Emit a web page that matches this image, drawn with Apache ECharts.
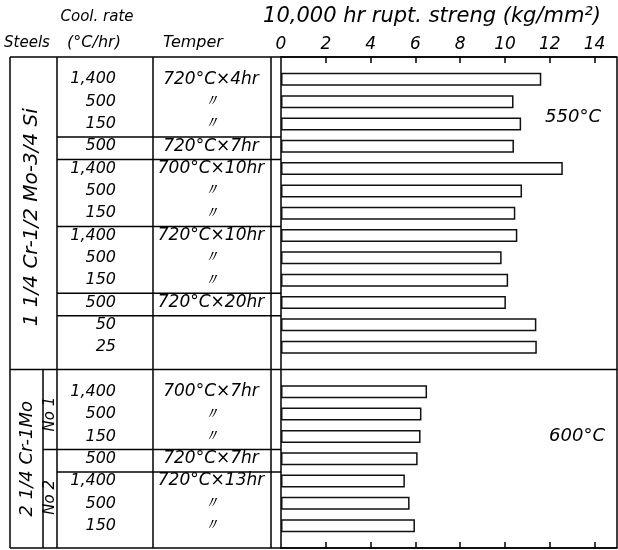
<!DOCTYPE html>
<html><head><meta charset="utf-8">
<script src="https://cdn.jsdelivr.net/npm/echarts@6/dist/echarts.min.js"></script>
<style>html,body{margin:0;padding:0;background:#fff}#c{width:618px;height:550px}</style>
</head><body><div id="c"></div>
<script>
// ---- data ----
const steelNames = ['1 1/4 Cr-1/2 Mo-3/4 Si', '2 1/4 Cr-1Mo'];
const subSteels = ['No 1', 'No 2'];
const coolRates550 = ['1,400','500','150','500','1,400','500','150','1,400','500','150','500','50','25'];
const tempers550 = ['720°C×4hr','〃','〃','720°C×7hr','700°C×10hr','〃','〃','720°C×10hr','〃','〃','720°C×20hr','',''];
const strength550 = [11.62,10.38,10.72,10.40,12.58,10.76,10.46,10.55,9.85,10.14,10.04,11.40,11.42];
const coolRates600 = ['1,400','500','150','500','1,400','500','150'];
const tempers600 = ['700°C×7hr','〃','〃','720°C×7hr','720°C×13hr','〃','〃'];
const strength600 = [6.52,6.27,6.23,6.10,5.53,5.74,5.98];
const xTicks = [0,2,4,6,8,10,12,14];
const tempLabels = ['550°C','600°C'];
// group boundaries (row counts) within each temperature block
const groups550 = [3,1,3,3,1,2];
const groups600 = [3,1,3];

// ---- build category slots: pad, 550 rows, separator, 600 rows, pad ----
const slots = ['pad0'];
coolRates550.forEach((_, i) => slots.push('a' + i));
slots.push('sep');
coolRates600.forEach((_, i) => slots.push('b' + i));
slots.push('pad1');
const barData = slots.map(s => {
  if (s[0] === 'a') return strength550[+s.slice(1)];
  if (s[0] === 'b') return strength600[+s.slice(1)];
  return '-';
});

const FONT = '"DejaVu Sans", sans-serif';
const chart = echarts.init(document.getElementById('c'), null, {renderer: 'canvas'});
const G = {left: 281, right: 1, top: 57, bottom: 2};
chart.setOption({
  animation: false,
  backgroundColor: '#fff',
  grid: G,
  xAxis: [{
    type: 'value', position: 'top', min: 0, max: 15,
    axisLine: {show: true, lineStyle: {color: '#000', width: 1.5}},
    axisTick: {show: true, inside: true, length: 6, customValues: xTicks.slice(1), lineStyle: {color: '#000', width: 1.5}},
    axisLabel: {customValues: xTicks, margin: 4, fontSize: 17, fontStyle: 'italic', fontFamily: FONT, color: '#000'},
    splitLine: {show: false}
  }, {
    type: 'value', position: 'bottom', min: 0, max: 15,
    axisLine: {show: true, lineStyle: {color: '#000', width: 1.5}},
    axisTick: {show: true, inside: true, length: 6, customValues: xTicks.slice(1), lineStyle: {color: '#000', width: 1.5}},
    axisLabel: {show: false}, splitLine: {show: false}
  }],
  yAxis: {
    type: 'category', data: slots, inverse: true, boundaryGap: false,
    axisLine: {show: true, lineStyle: {color: '#000', width: 1.5}},
    axisTick: {show: false}, axisLabel: {show: false}, splitLine: {show: false}
  },
  series: [{
    type: 'bar', xAxisIndex: 0, data: barData, barWidth: 13,
    itemStyle: {color: '#fff', borderColor: '#111', borderWidth: 1.5}
  }]
});

// ---- table decorations positioned through the category axis ----
const py = s => chart.convertToPixel({yAxisIndex: 0}, s);
const TOP = 57, BOT = 548, L = 10, NO = 43, SD = 57, CD = 153, TR = 271, ZERO = 281, R = 617;
const g = [];
const line = (x1, y1, x2, y2, w) => g.push({type: 'line', shape: {x1, y1, x2, y2}, style: {stroke: '#000', lineWidth: w || 1.5}, silent: true});
const text = (t, x, y, opt) => g.push(Object.assign({type: 'text', x, y, style: Object.assign({text: t, font: 'italic 16px ' + FONT, fill: '#000', align: 'center', verticalAlign: 'middle'}, (opt && opt.style) || {})}, (opt && opt.el) || {}));

// frame
line(L, TOP, R, TOP); line(L, BOT, R, BOT);
line(L, TOP, L, BOT); line(SD, TOP, SD, BOT); line(CD, TOP, CD, BOT); line(TR, TOP, TR, BOT); line(R, TOP, R, BOT);
const sepY = py('sep');
line(L, sepY, R, sepY);
line(NO, sepY, NO, BOT);

// row group separators
let k = 0;
groups550.slice(0, -1).forEach(n => { k += n; const y = (py('a' + (k - 1)) + py('a' + k)) / 2 + 2; line(SD, y, ZERO, y); });
k = 0;
groups600.slice(0, -1).forEach((n, gi) => { k += n; const y = (py('b' + (k - 1)) + py('b' + k)) / 2 + 2; line(gi === 0 ? NO : SD, y, ZERO, y); });

// row texts
const TF = 'italic 17px ' + FONT;
coolRates550.forEach((c, i) => text(c, 116, py('a' + i), {style: {align: 'right'}}));
tempers550.forEach((t, i) => t && text(t, 211, py('a' + i), {style: {font: TF}}));
coolRates600.forEach((c, i) => text(c, 116, py('b' + i), {style: {align: 'right'}}));
tempers600.forEach((t, i) => t && text(t, 211, py('b' + i), {style: {font: TF}}));

// steel labels (rotated)
text(steelNames[0], 32, (py('a0') + py('a12')) / 2 + 4, {el: {rotation: Math.PI / 2}, style: {font: 'italic 20px ' + FONT}});
text(steelNames[1], 27, (py('b0') + py('b6')) / 2, {el: {rotation: Math.PI / 2}, style: {font: 'italic 18px ' + FONT}});
text(subSteels[0], 50, py('b1'), {el: {rotation: Math.PI / 2}, style: {font: 'italic 15px ' + FONT}});
text(subSteels[1], 50, py('b5') - 6, {el: {rotation: Math.PI / 2}, style: {font: 'italic 15px ' + FONT}});

// temperature labels
text(tempLabels[0], 573, py('a1') + 16, {style: {font: 'italic 18px ' + FONT}});
text(tempLabels[1], 577, py('b2'), {style: {font: 'italic 18px ' + FONT}});

// headers
text('Cool. rate', 97, 17, {style: {font: 'italic 15px ' + FONT}});
text('Steels', 27, 43, {style: {font: 'italic 15px ' + FONT}});
text('(°C/hr)', 94, 43, {style: {font: 'italic 16px ' + FONT}});
text('Temper', 193, 43, {style: {font: 'italic 16px ' + FONT}});
text('10,000 hr rupt. streng (kg/mm²)', 432, 17, {style: {font: 'italic 21px ' + FONT}});

chart.setOption({graphic: {elements: g}});
</script>
</body></html>
